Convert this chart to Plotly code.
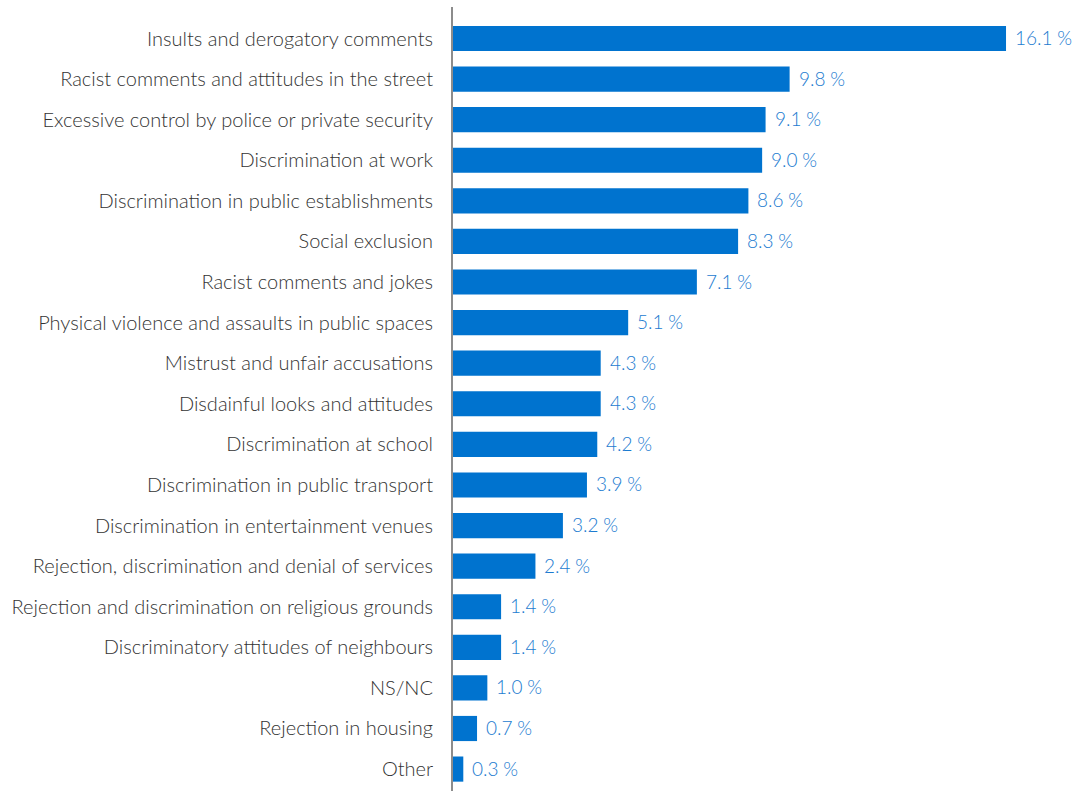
import plotly.graph_objects as go

categories = [
    "Insults and derogatory comments",
    "Racist comments and attitudes in the street",
    "Excessive control by police or private security",
    "Discrimination at work",
    "Discrimination in public establishments",
    "Social exclusion",
    "Racist comments and jokes",
    "Physical violence and assaults in public spaces",
    "Mistrust and unfair accusations",
    "Disdainful looks and attitudes",
    "Discrimination at school",
    "Discrimination in public transport",
    "Discrimination in entertainment venues",
    "Rejection, discrimination and denial of services",
    "Rejection and discrimination on religious grounds",
    "Discriminatory attitudes of neighbours",
    "NS/NC",
    "Rejection in housing",
    "Other",
]
values = [16.1, 9.8, 9.1, 9.0, 8.6, 8.3, 7.1, 5.1, 4.3, 4.3, 4.2, 3.9, 3.2, 2.4, 1.4, 1.4, 1.0, 0.7, 0.3]

BAR = "#0073CF"
LABEL = "#1C7BD0"
FONT = "Lato, 'Open Sans', sans-serif"

fig = go.Figure(
    go.Bar(
        x=values,
        y=categories,
        orientation="h",
        marker=dict(color=BAR, line=dict(width=0)),
        width=0.62,
        hoverinfo="skip",
    )
)

for c, v in zip(categories, values):
    fig.add_annotation(
        x=v, y=c, text=f"{v:.1f}\u202f%", showarrow=False,
        xanchor="left", yanchor="middle", xshift=7, yshift=1,
        font=dict(family=FONT, size=19, color=LABEL, weight=300),
    )

fig.update_layout(
    width=1073, height=791,
    margin=dict(l=453, r=0, t=7, b=0),
    paper_bgcolor="white", plot_bgcolor="white",
    showlegend=False,
    font=dict(family=FONT, size=18, color="#3a3a3a"),
    xaxis=dict(range=[0, 18.05], visible=False, showgrid=False, zeroline=False),
    yaxis=dict(
        type="category",
        range=[18.54, -0.776],
        showgrid=False, zeroline=False,
        showline=True, linecolor="#8c8c8c", linewidth=2,
        ticks="", ticklabelstandoff=14,
        tickfont=dict(family=FONT, size=20, color="#333333", weight=300),
    ),
)

fig.write_html("out.html")
